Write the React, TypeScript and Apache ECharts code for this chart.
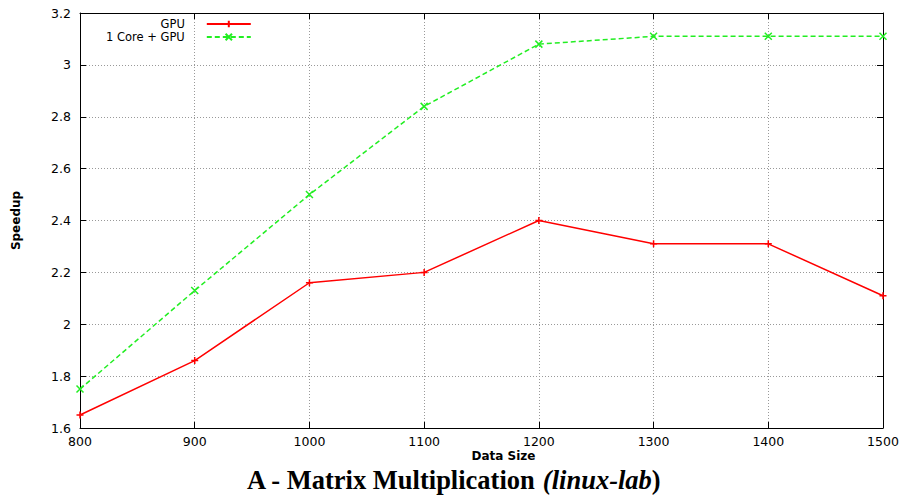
import React, { useEffect, useRef } from "react";
import * as echarts from "echarts";

const dataSizes = [800, 900, 1000, 1100, 1200, 1300, 1400, 1500];
const gpuSpeedup = [1.65, 1.86, 2.16, 2.2, 2.4, 2.31, 2.31, 2.11];
const coreGpuSpeedup = [1.75, 2.13, 2.5, 2.84, 3.08, 3.11, 3.11, 3.11];
const seriesNames = ["GPU", "1 Core + GPU"];

const FONT = "DejaVu Sans";

export default function App() {
  const ref = useRef<HTMLDivElement>(null);
  useEffect(() => {
    if (!ref.current) return;
    const chart = echarts.init(ref.current, null, { renderer: "svg" });
    const axisLine = { show: true, lineStyle: { color: "#000", width: 1 } };
    const tick = { show: true, inside: true, length: 6, lineStyle: { color: "#000", width: 1 } };
    const grid = { show: true, lineStyle: { color: "#999", type: [1, 2], width: 1 } };
    const label = { fontFamily: FONT, fontSize: 12.5, color: "#000" };
    chart.setOption({
      animation: false,
      backgroundColor: "#fff",
      title: {
        text: "{b|A - Matrix Multiplication }{i|(linux-lab}{b|)}",
        left: 247,
        top: 466,
        padding: 0,
        textStyle: {
          rich: {
            b: { fontFamily: "Liberation Serif", fontWeight: "bold", fontSize: 26.5, lineHeight: 28, color: "#000" },
            i: { fontFamily: "Liberation Serif", fontWeight: "bold", fontStyle: "italic", fontSize: 26.5, lineHeight: 28, color: "#000" },
          },
        },
      },
      legend: {
        orient: "vertical",
        align: "right",
        left: 106,
        top: 18,
        padding: 0,
        itemGap: 1,
        itemWidth: 44,
        itemHeight: 8,
        textStyle: { fontFamily: FONT, fontSize: 11.5, color: "#000", lineHeight: 11, padding: [0, 17, 0, 0] },
        data: seriesNames,
      },
      grid: { left: 80, right: 22, top: 13, bottom: 72, show: false },
      xAxis: [
        {
          type: "value",
          min: 800,
          max: 1500,
          interval: 100,
          position: "bottom",
          axisLine,
          axisTick: tick,
          axisLabel: { ...label, margin: 7, formatter: (v: number) => String(v) },
          splitLine: grid,
          name: "Data Size",
          nameLocation: "middle",
          nameGap: 22,
          nameMoveOverlap: false,
          nameTextStyle: { fontFamily: FONT, fontSize: 12, fontWeight: "bold", color: "#000", padding: [0, 0, 0, 44] },
        },
        {
          type: "value",
          min: 800,
          max: 1500,
          interval: 100,
          position: "top",
          axisLine,
          axisTick: tick,
          axisLabel: { show: false },
          splitLine: { show: false },
        },
      ],
      yAxis: [
        {
          type: "value",
          min: 1.6,
          max: 3.2,
          interval: 0.2,
          position: "left",
          axisLine,
          axisTick: tick,
          axisLabel: { ...label, margin: 9, formatter: (v: number) => String(Math.round(v * 10) / 10) },
          splitLine: grid,
          name: "Speedup",
          nameLocation: "middle",
          nameGap: 58,
          nameMoveOverlap: false,
          nameTextStyle: { fontFamily: FONT, fontSize: 12, fontWeight: "bold", color: "#000" },
        },
        {
          type: "value",
          min: 1.6,
          max: 3.2,
          interval: 0.2,
          position: "right",
          axisLine,
          axisTick: tick,
          axisLabel: { show: false },
          splitLine: { show: false },
        },
      ],
      series: [
        {
          name: seriesNames[0],
          type: "line",
          data: dataSizes.map((x, i) => [x, gpuSpeedup[i]]),
          symbol: "path://M0,5L10,5M5,0L5,10",
          symbolSize: 7,
          showSymbol: true,
          lineStyle: { color: "#ff0000", width: 1.5 },
          itemStyle: { color: "#ff0000", borderColor: "#ff0000", borderWidth: 1.5 },
          z: 3,
        },
        {
          name: seriesNames[1],
          type: "line",
          data: dataSizes.map((x, i) => [x, coreGpuSpeedup[i]]),
          symbol: "path://M0,0L10,10M10,0L0,10",
          symbolSize: 7,
          showSymbol: true,
          lineStyle: { color: "#22ee22", width: 1.5, type: [5, 3] },
          itemStyle: { color: "#22ee22", borderColor: "#22ee22", borderWidth: 1.5 },
          z: 3,
        },
      ],
    });
    return () => chart.dispose();
  }, []);
  return <div ref={ref} style={{ width: 905, height: 500, position: "absolute", left: 0, top: 0 }} />;
}
